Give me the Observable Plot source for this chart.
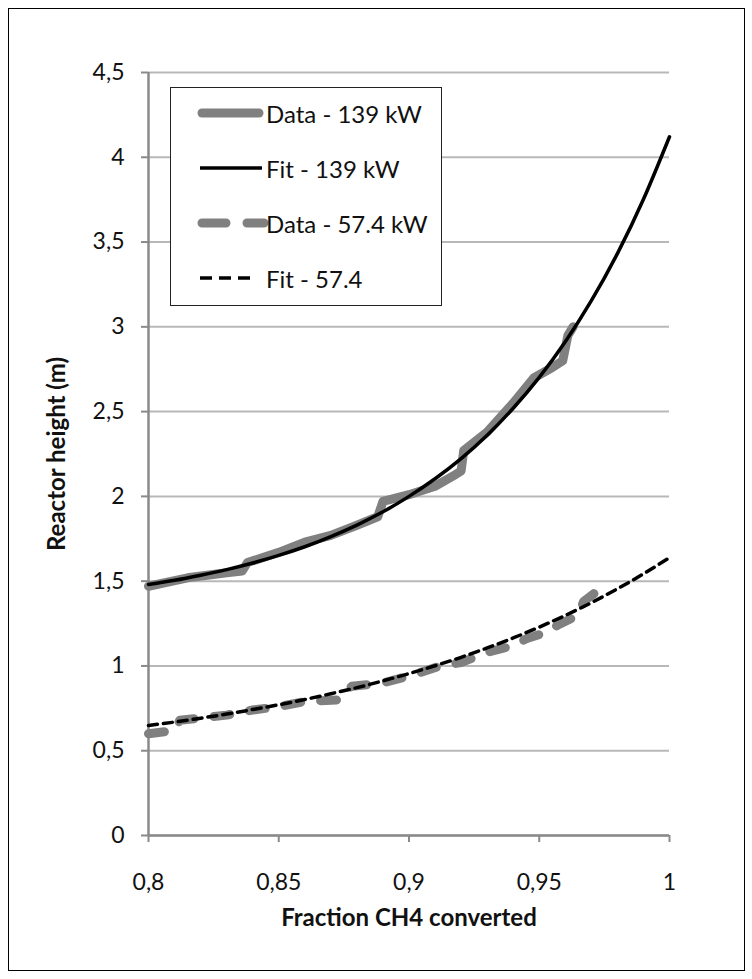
<!DOCTYPE html>
<html>
<head>
<meta charset="utf-8">
<script src="https://cdn.jsdelivr.net/npm/d3@7"></script>
<script src="https://cdn.jsdelivr.net/npm/@observablehq/plot@0.6"></script>
<style>
  body { margin: 0; background: #fff; }
  #wrap { position: relative; width: 752px; height: 979px; font-family: Lato, "Open Sans", sans-serif; }
  #border { position: absolute; left: 8px; top: 8px; width: 735px; height: 961px; border: 1.5px solid #000; pointer-events: none; }
  #legend { position: absolute; left: 170px; top: 87px; width: 270px; height: 217px; border: 1.5px solid #222; background: #fff; }
  .row { position: absolute; left: 0; height: 30px; display: flex; align-items: center; }
  .row svg { width: 98px; height: 30px; }
  .row span { font-size: 24px; color: #111; margin-left: -3px; white-space: nowrap; }
</style>
</head>
<body>
<div id="wrap">
  <div id="chart"></div>
  <div id="legend"></div>
  <div id="border"></div>
</div>
<script>
// Fit curves
const fitX   = [0.80,0.81,0.82,0.83,0.84,0.85,0.86,0.87,0.88,0.89,0.90,0.91,0.92,0.93,0.94,0.95,0.96,0.97,0.98,0.99,1.00];
const fit139 = [1.480,1.505,1.535,1.568,1.607,1.652,1.703,1.763,1.831,1.909,2.000,2.104,2.223,2.361,2.520,2.702,2.912,3.154,3.432,3.752,4.121];
const fit57  = [0.649,0.669,0.692,0.716,0.743,0.771,0.802,0.836,0.872,0.912,0.955,1.001,1.051,1.106,1.165,1.229,1.298,1.373,1.455,1.543,1.639];

// Data - 139 kW
const data139X = [0.800,0.815,0.830,0.836,0.838,0.850,0.860,0.870,0.880,0.888,0.890,0.900,0.910,0.918,0.920,0.921,0.930,0.940,0.948,0.955,0.959,0.961,0.963];
const data139Y = [1.47,1.52,1.55,1.56,1.61,1.67,1.73,1.77,1.83,1.88,1.97,2.01,2.06,2.13,2.15,2.27,2.38,2.55,2.70,2.76,2.80,2.95,3.00];

// Data - 57.4 kW
const data57X = [0.800,0.810,0.812,0.830,0.840,0.850,0.860,0.873,0.878,0.890,0.900,0.912,0.920,0.930,0.940,0.945,0.953,0.957,0.965,0.967,0.973];
const data57Y = [0.60,0.62,0.68,0.71,0.74,0.76,0.79,0.80,0.88,0.90,0.94,1.00,1.02,1.08,1.12,1.16,1.20,1.24,1.30,1.38,1.45];

const xTicks = [0.8,0.85,0.9,0.95,1];
const yTicks = [0,0.5,1,1.5,2,2.5,3,3.5,4,4.5];

const legendLabels = ["Data - 139 kW","Fit - 139 kW","Data - 57.4 kW","Fit - 57.4"];

const fitRows = fitX.map((x,i) => ({x, y139: fit139[i], y57: fit57[i]}));
const d139 = data139X.map((x,i) => ({x, y: data139Y[i]}));
const d57 = data57X.map((x,i) => ({x, y: data57Y[i]}));
const comma = d => String(d).replace(".", ",");

const chart = Plot.plot({
  width: 752, height: 979,
  marginLeft: 148, marginRight: 83, marginTop: 72, marginBottom: 144,
  x: {domain: [0.8, 1]},
  y: {domain: [0, 4.5]},
  style: {fontFamily: "Lato, 'Open Sans', sans-serif", fontSize: "23px", color: "#111", background: "transparent"},
  marks: [
    Plot.gridY(yTicks, {stroke: "#b8b8b8", strokeOpacity: 1, strokeWidth: 2}),
    Plot.ruleX([0.8], {stroke: "#8a8a8a", strokeWidth: 2.5}),
    Plot.ruleY([0], {stroke: "#8a8a8a", strokeWidth: 2.5}),
    Plot.axisY(yTicks, {tickSize: 7, tickPadding: 17, stroke: "#8a8a8a", strokeWidth: 2, tickFormat: comma, label: null, fontSize: 23}),
    Plot.axisX(xTicks, {tickSize: 7, tickPadding: 31, stroke: "#8a8a8a", strokeWidth: 2, tickFormat: comma, label: null, fontSize: 23}),
    Plot.line(d139, {x: "x", y: "y", stroke: "#808080", strokeWidth: 9, strokeLinecap: "round", strokeLinejoin: "round"}),
    Plot.line(d57, {x: "x", y: "y", stroke: "#808080", strokeWidth: 9, strokeLinecap: "round", strokeLinejoin: "round", strokeDasharray: "16,20"}),
    Plot.line(fitRows, {x: "x", y: "y139", stroke: "#000", strokeWidth: 3.5, curve: "natural"}),
    Plot.line(fitRows, {x: "x", y: "y57", stroke: "#000", strokeWidth: 3.5, strokeDasharray: "9,6", curve: "natural"}),
    Plot.text(["Fraction CH4 converted"], {frameAnchor: "bottom", dy: 90, fontWeight: "bold", fontSize: 24, fill: "#111"}),
    Plot.text(["Reactor height (m)"], {frameAnchor: "left", textAnchor: "middle", dx: -91, rotate: -90, fontWeight: "bold", fontSize: 24, fill: "#111"})
  ]
});
document.getElementById("chart").appendChild(chart);

// Legend
const legend = document.getElementById("legend");
const samples = [
  `<line x1="31" y1="15" x2="88" y2="15" stroke="#808080" stroke-width="9" stroke-linecap="round"/>`,
  `<line x1="29" y1="15" x2="91" y2="15" stroke="#000" stroke-width="3.5"/>`,
  `<line x1="31" y1="15" x2="93" y2="15" stroke="#808080" stroke-width="9" stroke-linecap="round" stroke-dasharray="24,21"/>`,
  `<line x1="29" y1="15" x2="84" y2="15" stroke="#000" stroke-width="3.5" stroke-dasharray="12,7"/>`
];
const rowTops = [11, 66, 121, 176];
legendLabels.forEach((lab, i) => {
  const r = document.createElement("div");
  r.className = "row";
  r.style.top = (rowTops[i] - 1) + "px";
  r.innerHTML = `<svg viewBox="0 0 98 30">${samples[i]}</svg><span>${lab}</span>`;
  legend.appendChild(r);
});
</script>
</body>
</html>
